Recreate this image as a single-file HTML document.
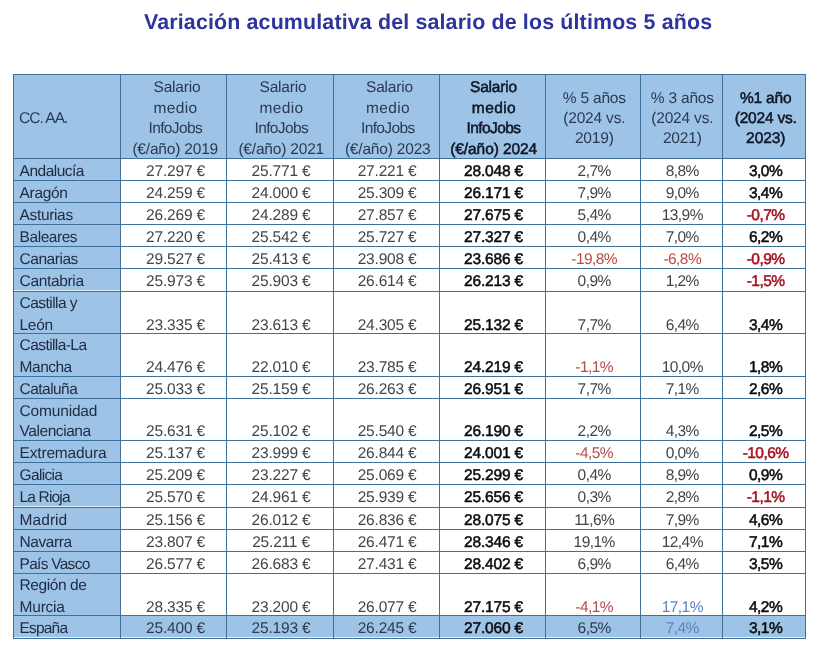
<!DOCTYPE html>
<html lang="es"><head><meta charset="utf-8"><title>Variación acumulativa del salario de los últimos 5 años</title>
<style>
html,body{margin:0;padding:0;background:#fff}
body{width:817px;height:653px;position:relative;overflow:hidden;font-family:"Liberation Sans",sans-serif;text-rendering:geometricPrecision}
.f{position:absolute;background:#9DC3E6}
.g{position:absolute;background:#E4F2FC}
.l{position:absolute;background:#3E7099}
.t{position:absolute;white-space:nowrap;font-size:15.5px;line-height:20px;height:20px;color:#444}
.c{text-align:center;letter-spacing:-0.19px}
.h{color:#2b3a52}
.n{color:#1f2b40;letter-spacing:-0.35px}
.cc{letter-spacing:-0.95px}
.b{font-weight:normal;color:#0a0a0a;-webkit-text-stroke:0.5px #0a0a0a}
.p{letter-spacing:-0.55px}
.hb{color:#0e1626;-webkit-text-stroke-color:#0e1626}
.r{color:#b94b49}
.rb{color:#a3121f;-webkit-text-stroke-color:#a3121f}
.bl{color:#5b84c4}
h1{position:absolute;left:144px;top:8px;margin:0;font-size:21.4px;line-height:28px;font-weight:bold;color:#2D349B;white-space:nowrap;letter-spacing:0.15px}
</style></head><body>
<h1>Variación acumulativa del salario de los últimos 5 años</h1>
<div class="f" style="left:13px;top:74px;width:793px;height:84px"></div>
<div class="f" style="left:13px;top:74px;width:107px;height:564px"></div>
<div class="f" style="left:13px;top:615px;width:793px;height:23px"></div>
<div class="g" style="left:14px;top:290px;width:106px;height:1px"></div>
<div class="g" style="left:14px;top:506px;width:106px;height:1px"></div>
<div class="g" style="left:14px;top:637px;width:791px;height:1px"></div>
<div class="l" style="left:13px;top:74px;width:793px;height:1px"></div>
<div class="l" style="left:13px;top:158px;width:793px;height:1px"></div>
<div class="l" style="left:13px;top:180px;width:793px;height:1px"></div>
<div class="l" style="left:13px;top:202px;width:793px;height:1px"></div>
<div class="l" style="left:13px;top:224px;width:793px;height:1px"></div>
<div class="l" style="left:13px;top:246px;width:793px;height:1px"></div>
<div class="l" style="left:13px;top:268px;width:793px;height:1px"></div>
<div class="l" style="left:13px;top:291px;width:793px;height:1px"></div>
<div class="l" style="left:13px;top:333px;width:793px;height:1px"></div>
<div class="l" style="left:13px;top:376px;width:793px;height:1px"></div>
<div class="l" style="left:13px;top:398px;width:793px;height:1px"></div>
<div class="l" style="left:13px;top:440px;width:793px;height:1px"></div>
<div class="l" style="left:13px;top:462px;width:793px;height:1px"></div>
<div class="l" style="left:13px;top:484px;width:793px;height:1px"></div>
<div class="l" style="left:13px;top:507px;width:793px;height:1px"></div>
<div class="l" style="left:13px;top:529px;width:793px;height:1px"></div>
<div class="l" style="left:13px;top:551px;width:793px;height:1px"></div>
<div class="l" style="left:13px;top:573px;width:793px;height:1px"></div>
<div class="l" style="left:13px;top:615px;width:793px;height:1px"></div>
<div class="l" style="left:13px;top:638px;width:793px;height:1px"></div>
<div class="l" style="left:13px;top:74px;width:1px;height:565px"></div>
<div class="l" style="left:120px;top:74px;width:1px;height:565px"></div>
<div class="l" style="left:226px;top:74px;width:1px;height:565px"></div>
<div class="l" style="left:333px;top:74px;width:1px;height:565px"></div>
<div class="l" style="left:439px;top:74px;width:1px;height:565px"></div>
<div class="l" style="left:545px;top:74px;width:1px;height:565px"></div>
<div class="l" style="left:640px;top:74px;width:1px;height:565px"></div>
<div class="l" style="left:722px;top:74px;width:1px;height:565px"></div>
<div class="l" style="left:805px;top:74px;width:1px;height:565px"></div>
<div class="t h cc" style="left:19.0px;top:109.0px">CC. AA.</div>
<div class="t c h" style="left:123.5px;top:78.0px;width:107px;letter-spacing:-0.19px">Salario</div>
<div class="t c h" style="left:122.0px;top:99.0px;width:107px;letter-spacing:0.39px">medio</div>
<div class="t c h" style="left:121.8px;top:119.0px;width:107px;letter-spacing:-0.61px">InfoJobs</div>
<div class="t c h" style="left:121.7px;top:140.0px;width:107px;letter-spacing:-0.19px">(€/año) 2019</div>
<div class="t c h" style="left:229.0px;top:78.0px;width:108px;letter-spacing:-0.19px">Salario</div>
<div class="t c h" style="left:227.5px;top:99.0px;width:108px;letter-spacing:0.39px">medio</div>
<div class="t c h" style="left:227.3px;top:119.0px;width:108px;letter-spacing:-0.61px">InfoJobs</div>
<div class="t c h" style="left:227.2px;top:140.0px;width:108px;letter-spacing:-0.19px">(€/año) 2021</div>
<div class="t c h" style="left:336.0px;top:78.0px;width:107px;letter-spacing:-0.19px">Salario</div>
<div class="t c h" style="left:334.5px;top:99.0px;width:107px;letter-spacing:0.39px">medio</div>
<div class="t c h" style="left:334.3px;top:119.0px;width:107px;letter-spacing:-0.61px">InfoJobs</div>
<div class="t c h" style="left:334.2px;top:140.0px;width:107px;letter-spacing:-0.19px">(€/año) 2023</div>
<div class="t c h b hb" style="left:440.0px;top:78.0px;width:107px;letter-spacing:-0.19px">Salario</div>
<div class="t c h b hb" style="left:440.5px;top:99.0px;width:107px;letter-spacing:0.42px">medio</div>
<div class="t c h b hb" style="left:440.0px;top:119.0px;width:107px;letter-spacing:-0.58px">InfoJobs</div>
<div class="t c h b hb" style="left:440.2px;top:140.0px;width:107px;letter-spacing:-0.08px">(€/año) 2024</div>
<div class="t c h" style="left:546.3px;top:89.0px;width:96px;letter-spacing:-0.19px">% 5 años</div>
<div class="t c h" style="left:546.3px;top:109.0px;width:96px;letter-spacing:-0.19px">(2024 vs.</div>
<div class="t c h" style="left:546.3px;top:129.0px;width:96px;letter-spacing:-0.19px">2019)</div>
<div class="t c h" style="left:640.8px;top:89.0px;width:83px;letter-spacing:-0.19px">% 3 años</div>
<div class="t c h" style="left:640.8px;top:109.0px;width:83px;letter-spacing:-0.19px">(2024 vs.</div>
<div class="t c h" style="left:640.8px;top:129.0px;width:83px;letter-spacing:-0.19px">2021)</div>
<div class="t c h b hb" style="left:723.7px;top:89.0px;width:84px;letter-spacing:-0.19px">%1 año</div>
<div class="t c h b hb" style="left:723.7px;top:109.0px;width:84px;letter-spacing:-0.19px">(2024 vs.</div>
<div class="t c h b hb" style="left:723.7px;top:129.0px;width:84px;letter-spacing:-0.1px">2023)</div>
<div class="t n" style="left:19.6px;top:162.0px;letter-spacing:-0.51px">Andalucía</div>
<div class="t c d" style="left:122.0px;top:162.0px;width:107px">27.297 €</div>
<div class="t c d" style="left:227.0px;top:162.0px;width:108px">25.771 €</div>
<div class="t c d" style="left:333.6px;top:162.0px;width:107px">27.221 €</div>
<div class="t c d b" style="left:440.0px;top:162.0px;width:107px">28.048 €</div>
<div class="t c d p" style="left:546.2px;top:162.0px;width:96px">2,7%</div>
<div class="t c d p" style="left:640.8px;top:162.0px;width:83px">8,8%</div>
<div class="t c d b p" style="left:723.6px;top:162.0px;width:84px">3,0%</div>
<div class="t n" style="left:19.6px;top:184.0px;letter-spacing:-0.35px">Aragón</div>
<div class="t c d" style="left:122.0px;top:184.0px;width:107px">24.259 €</div>
<div class="t c d" style="left:227.0px;top:184.0px;width:108px">24.000 €</div>
<div class="t c d" style="left:333.6px;top:184.0px;width:107px">25.309 €</div>
<div class="t c d b" style="left:440.0px;top:184.0px;width:107px">26.171 €</div>
<div class="t c d p" style="left:546.2px;top:184.0px;width:96px">7,9%</div>
<div class="t c d p" style="left:640.8px;top:184.0px;width:83px">9,0%</div>
<div class="t c d b p" style="left:723.6px;top:184.0px;width:84px">3,4%</div>
<div class="t n" style="left:19.6px;top:206.0px;letter-spacing:-0.35px">Asturias</div>
<div class="t c d" style="left:122.0px;top:206.0px;width:107px">26.269 €</div>
<div class="t c d" style="left:227.0px;top:206.0px;width:108px">24.289 €</div>
<div class="t c d" style="left:333.6px;top:206.0px;width:107px">27.857 €</div>
<div class="t c d b" style="left:440.0px;top:206.0px;width:107px">27.675 €</div>
<div class="t c d p" style="left:546.2px;top:206.0px;width:96px">5,4%</div>
<div class="t c d p" style="left:640.8px;top:206.0px;width:83px">13,9%</div>
<div class="t c d b rb p" style="left:723.6px;top:206.0px;width:84px">-0,7%</div>
<div class="t n" style="left:19.6px;top:228.0px;letter-spacing:-0.45px">Baleares</div>
<div class="t c d" style="left:122.0px;top:228.0px;width:107px">27.220 €</div>
<div class="t c d" style="left:227.0px;top:228.0px;width:108px">25.542 €</div>
<div class="t c d" style="left:333.6px;top:228.0px;width:107px">25.727 €</div>
<div class="t c d b" style="left:440.0px;top:228.0px;width:107px">27.327 €</div>
<div class="t c d p" style="left:546.2px;top:228.0px;width:96px">0,4%</div>
<div class="t c d p" style="left:640.8px;top:228.0px;width:83px">7,0%</div>
<div class="t c d b p" style="left:723.6px;top:228.0px;width:84px">6,2%</div>
<div class="t n" style="left:19.6px;top:250.0px;letter-spacing:-0.47px">Canarias</div>
<div class="t c d" style="left:122.0px;top:250.0px;width:107px">29.527 €</div>
<div class="t c d" style="left:227.0px;top:250.0px;width:108px">25.413 €</div>
<div class="t c d" style="left:333.6px;top:250.0px;width:107px">23.908 €</div>
<div class="t c d b" style="left:440.0px;top:250.0px;width:107px">23.686 €</div>
<div class="t c d r p" style="left:546.2px;top:250.0px;width:96px">-19,8%</div>
<div class="t c d r p" style="left:640.8px;top:250.0px;width:83px">-6,8%</div>
<div class="t c d b rb p" style="left:723.6px;top:250.0px;width:84px">-0,9%</div>
<div class="t n" style="left:19.6px;top:272.0px;letter-spacing:-0.35px">Cantabria</div>
<div class="t c d" style="left:122.0px;top:272.0px;width:107px">25.973 €</div>
<div class="t c d" style="left:227.0px;top:272.0px;width:108px">25.903 €</div>
<div class="t c d" style="left:333.6px;top:272.0px;width:107px">26.614 €</div>
<div class="t c d b" style="left:440.0px;top:272.0px;width:107px">26.213 €</div>
<div class="t c d p" style="left:546.2px;top:272.0px;width:96px">0,9%</div>
<div class="t c d p" style="left:640.8px;top:272.0px;width:83px">1,2%</div>
<div class="t c d b rb p" style="left:723.6px;top:272.0px;width:84px">-1,5%</div>
<div class="t n" style="left:19.6px;top:294.0px;letter-spacing:-0.55px">Castilla y</div>
<div class="t n" style="left:19.6px;top:316.0px;letter-spacing:-0.35px">León</div>
<div class="t c d" style="left:122.0px;top:316.0px;width:107px">23.335 €</div>
<div class="t c d" style="left:227.0px;top:316.0px;width:108px">23.613 €</div>
<div class="t c d" style="left:333.6px;top:316.0px;width:107px">24.305 €</div>
<div class="t c d b" style="left:440.0px;top:316.0px;width:107px">25.132 €</div>
<div class="t c d p" style="left:546.2px;top:316.0px;width:96px">7,7%</div>
<div class="t c d p" style="left:640.8px;top:316.0px;width:83px">6,4%</div>
<div class="t c d b p" style="left:723.6px;top:316.0px;width:84px">3,4%</div>
<div class="t n" style="left:19.6px;top:336.0px;letter-spacing:-0.58px">Castilla-La</div>
<div class="t n" style="left:19.6px;top:358.0px;letter-spacing:-0.5px">Mancha</div>
<div class="t c d" style="left:122.0px;top:358.0px;width:107px">24.476 €</div>
<div class="t c d" style="left:227.0px;top:358.0px;width:108px">22.010 €</div>
<div class="t c d" style="left:333.6px;top:358.0px;width:107px">23.785 €</div>
<div class="t c d b" style="left:440.0px;top:358.0px;width:107px">24.219 €</div>
<div class="t c d r p" style="left:546.2px;top:358.0px;width:96px">-1,1%</div>
<div class="t c d p" style="left:640.8px;top:358.0px;width:83px">10,0%</div>
<div class="t c d b p" style="left:723.6px;top:358.0px;width:84px">1,8%</div>
<div class="t n" style="left:19.6px;top:380.0px;letter-spacing:-0.55px">Cataluña</div>
<div class="t c d" style="left:122.0px;top:380.0px;width:107px">25.033 €</div>
<div class="t c d" style="left:227.0px;top:380.0px;width:108px">25.159 €</div>
<div class="t c d" style="left:333.6px;top:380.0px;width:107px">26.263 €</div>
<div class="t c d b" style="left:440.0px;top:380.0px;width:107px">26.951 €</div>
<div class="t c d p" style="left:546.2px;top:380.0px;width:96px">7,7%</div>
<div class="t c d p" style="left:640.8px;top:380.0px;width:83px">7,1%</div>
<div class="t c d b p" style="left:723.6px;top:380.0px;width:84px">2,6%</div>
<div class="t n" style="left:19.6px;top:402.0px;letter-spacing:-0.18px">Comunidad</div>
<div class="t n" style="left:19.6px;top:422.0px;letter-spacing:-0.45px">Valenciana</div>
<div class="t c d" style="left:122.0px;top:422.0px;width:107px">25.631 €</div>
<div class="t c d" style="left:227.0px;top:422.0px;width:108px">25.102 €</div>
<div class="t c d" style="left:333.6px;top:422.0px;width:107px">25.540 €</div>
<div class="t c d b" style="left:440.0px;top:422.0px;width:107px">26.190 €</div>
<div class="t c d p" style="left:546.2px;top:422.0px;width:96px">2,2%</div>
<div class="t c d p" style="left:640.8px;top:422.0px;width:83px">4,3%</div>
<div class="t c d b p" style="left:723.6px;top:422.0px;width:84px">2,5%</div>
<div class="t n" style="left:19.6px;top:444.0px;letter-spacing:-0.18px">Extremadura</div>
<div class="t c d" style="left:122.0px;top:444.0px;width:107px">25.137 €</div>
<div class="t c d" style="left:227.0px;top:444.0px;width:108px">23.999 €</div>
<div class="t c d" style="left:333.6px;top:444.0px;width:107px">26.844 €</div>
<div class="t c d b" style="left:440.0px;top:444.0px;width:107px">24.001 €</div>
<div class="t c d r p" style="left:546.2px;top:444.0px;width:96px">-4,5%</div>
<div class="t c d p" style="left:640.8px;top:444.0px;width:83px">0,0%</div>
<div class="t c d b rb p" style="left:723.6px;top:444.0px;width:84px">-10,6%</div>
<div class="t n" style="left:19.6px;top:466.0px;letter-spacing:-0.68px">Galicia</div>
<div class="t c d" style="left:122.0px;top:466.0px;width:107px">25.209 €</div>
<div class="t c d" style="left:227.0px;top:466.0px;width:108px">23.227 €</div>
<div class="t c d" style="left:333.6px;top:466.0px;width:107px">25.069 €</div>
<div class="t c d b" style="left:440.0px;top:466.0px;width:107px">25.299 €</div>
<div class="t c d p" style="left:546.2px;top:466.0px;width:96px">0,4%</div>
<div class="t c d p" style="left:640.8px;top:466.0px;width:83px">8,9%</div>
<div class="t c d b p" style="left:723.6px;top:466.0px;width:84px">0,9%</div>
<div class="t n" style="left:19.6px;top:488.0px;letter-spacing:-0.85px">La Rioja</div>
<div class="t c d" style="left:122.0px;top:488.0px;width:107px">25.570 €</div>
<div class="t c d" style="left:227.0px;top:488.0px;width:108px">24.961 €</div>
<div class="t c d" style="left:333.6px;top:488.0px;width:107px">25.939 €</div>
<div class="t c d b" style="left:440.0px;top:488.0px;width:107px">25.656 €</div>
<div class="t c d p" style="left:546.2px;top:488.0px;width:96px">0,3%</div>
<div class="t c d p" style="left:640.8px;top:488.0px;width:83px">2,8%</div>
<div class="t c d b rb p" style="left:723.6px;top:488.0px;width:84px">-1,1%</div>
<div class="t n" style="left:19.6px;top:511.0px;letter-spacing:0.05px">Madrid</div>
<div class="t c d" style="left:122.0px;top:511.0px;width:107px">25.156 €</div>
<div class="t c d" style="left:227.0px;top:511.0px;width:108px">26.012 €</div>
<div class="t c d" style="left:333.6px;top:511.0px;width:107px">26.836 €</div>
<div class="t c d b" style="left:440.0px;top:511.0px;width:107px">28.075 €</div>
<div class="t c d p" style="left:546.2px;top:511.0px;width:96px">11,6%</div>
<div class="t c d p" style="left:640.8px;top:511.0px;width:83px">7,9%</div>
<div class="t c d b p" style="left:723.6px;top:511.0px;width:84px">4,6%</div>
<div class="t n" style="left:19.6px;top:533.0px;letter-spacing:-0.45px">Navarra</div>
<div class="t c d" style="left:122.0px;top:533.0px;width:107px">23.807 €</div>
<div class="t c d" style="left:227.0px;top:533.0px;width:108px">25.211 €</div>
<div class="t c d" style="left:333.6px;top:533.0px;width:107px">26.471 €</div>
<div class="t c d b" style="left:440.0px;top:533.0px;width:107px">28.346 €</div>
<div class="t c d p" style="left:546.2px;top:533.0px;width:96px">19,1%</div>
<div class="t c d p" style="left:640.8px;top:533.0px;width:83px">12,4%</div>
<div class="t c d b p" style="left:723.6px;top:533.0px;width:84px">7,1%</div>
<div class="t n" style="left:19.6px;top:555.0px;letter-spacing:-0.73px">País Vasco</div>
<div class="t c d" style="left:122.0px;top:555.0px;width:107px">26.577 €</div>
<div class="t c d" style="left:227.0px;top:555.0px;width:108px">26.683 €</div>
<div class="t c d" style="left:333.6px;top:555.0px;width:107px">27.431 €</div>
<div class="t c d b" style="left:440.0px;top:555.0px;width:107px">28.402 €</div>
<div class="t c d p" style="left:546.2px;top:555.0px;width:96px">6,9%</div>
<div class="t c d p" style="left:640.8px;top:555.0px;width:83px">6,4%</div>
<div class="t c d b p" style="left:723.6px;top:555.0px;width:84px">3,5%</div>
<div class="t n" style="left:19.6px;top:576.0px;letter-spacing:-0.43px">Región de</div>
<div class="t n" style="left:19.6px;top:598.0px;letter-spacing:-0.23px">Murcia</div>
<div class="t c d" style="left:122.0px;top:598.0px;width:107px">28.335 €</div>
<div class="t c d" style="left:227.0px;top:598.0px;width:108px">23.200 €</div>
<div class="t c d" style="left:333.6px;top:598.0px;width:107px">26.077 €</div>
<div class="t c d b" style="left:440.0px;top:598.0px;width:107px">27.175 €</div>
<div class="t c d r p" style="left:546.2px;top:598.0px;width:96px">-4,1%</div>
<div class="t c d bl p" style="left:640.8px;top:598.0px;width:83px">17,1%</div>
<div class="t c d b p" style="left:723.6px;top:598.0px;width:84px">4,2%</div>
<div class="t n" style="left:19.6px;top:619.0px;letter-spacing:-0.83px">España</div>
<div class="t c d h" style="left:122.0px;top:619.0px;width:107px">25.400 €</div>
<div class="t c d h" style="left:227.0px;top:619.0px;width:108px">25.193 €</div>
<div class="t c d h" style="left:333.6px;top:619.0px;width:107px">26.245 €</div>
<div class="t c d b" style="left:440.0px;top:619.0px;width:107px">27.060 €</div>
<div class="t c d h p" style="left:546.2px;top:619.0px;width:96px">6,5%</div>
<div class="t c d bl p" style="left:640.8px;top:619.0px;width:83px">7,4%</div>
<div class="t c d b p" style="left:723.6px;top:619.0px;width:84px">3,1%</div>
</body></html>
